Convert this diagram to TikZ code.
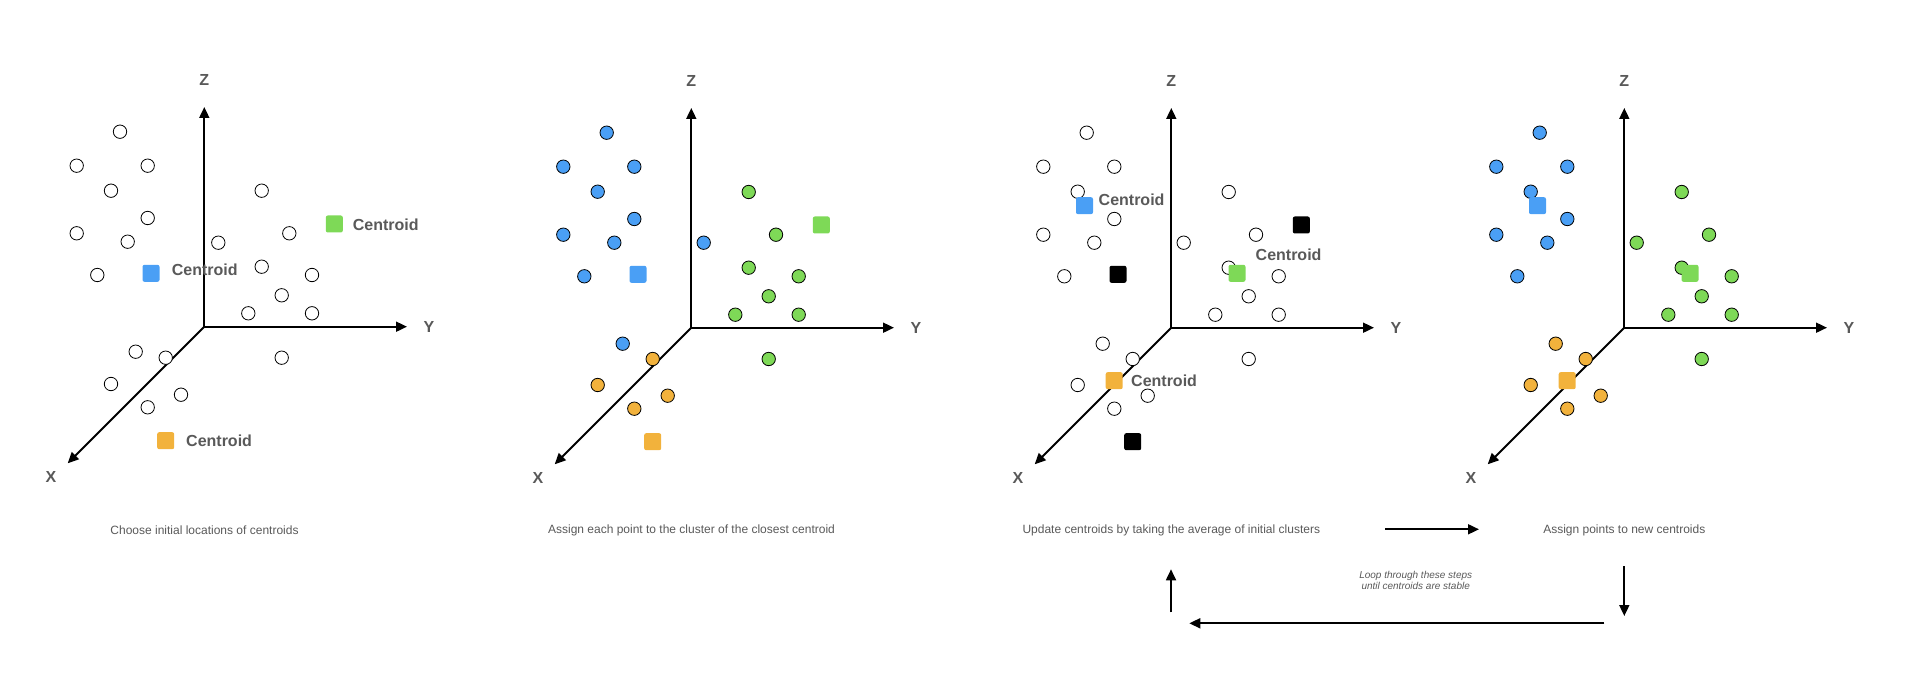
\documentclass[tikz,border=0pt]{standalone}
\usepackage{fontspec}
\setmainfont{Liberation Sans}
\usetikzlibrary{arrows.meta}
\definecolor{ptblue}{HTML}{4A9FF5}
\definecolor{ptgreen}{HTML}{7ED957}
\definecolor{ptorange}{HTML}{F2B23C}
\definecolor{labelgray}{HTML}{595959}
\tikzset{>={Triangle[length=11pt,width=10pt]},
  axis/.style={line width=1.8pt,->},
  flow/.style={line width=1.8pt,->},
  dot/.style={circle,draw=black,line width=0.8pt,fill=white,minimum size=13.4pt,inner sep=0pt},
  ctr/.style={rectangle,rounded corners=2pt,minimum size=17pt,inner sep=0pt},
  axlabel/.style={font=\fontsize{16}{19}\selectfont\bfseries,text=labelgray,inner sep=0pt},
  ctrlabel/.style={font=\fontsize{16}{19}\selectfont\bfseries,text=labelgray,inner sep=0pt,anchor=west},
  caption/.style={font=\fontsize{12}{14}\selectfont,text=labelgray,inner sep=0pt},
  looptext/.style={font=\fontsize{10}{11.7}\selectfont\itshape,text=labelgray,inner sep=0pt,align=center}}

\begin{document}
\begin{tikzpicture}[x=1pt,y=-1pt]
  \useasboundingbox (0,0) rectangle (1912,684);

  % axes of the four panels
  \foreach \k/\dx/\dy in {1/0/0,2/487/1,3/967/1,4/1420/1}{
    \begin{scope}[shift={(\dx,\dy)}]
      \coordinate (o\k) at (204.3,326.7);
      \coordinate (z\k) at (204.3,107);
      \coordinate (y\k) at (407,326.7);
      \coordinate (x\k) at (67.7,463.3);
      \draw[axis] (o\k) -- (z\k);
      \draw[axis] (o\k) -- (y\k);
      \draw[axis] (o\k) -- (x\k);
      \node[axlabel] (zl\k) at (204.3,80) {Z};
      \node[axlabel] (yl\k) at (429,326.7) {Y};
      \node[axlabel] (xl\k) at (51,476.7) {X};
    \end{scope}
  }

  % panel 1: initial centroids
  \foreach \x/\y [count=\i] in {120/131.7,76.7/165.7,147.7/165.7,111/190.7,147.7/218,
      76.7/233.3,127.7/241.7,97.3/275,218.3/242.7,261.7/190.7,289.3/233.3,261.7/266.7,
      312/275,281.7/295.3,248.3/313.3,312/313.3,135.7/351.7,165.7/357.7,281.7/357.7,
      111/384,181/394.7,147.7/407.3}
    \node[dot] (a\i) at (\x,\y) {};
  \node[ctr,fill=ptblue] (s1b) at (151,273.3) {};
  \node[ctr,fill=ptgreen] (s1g) at (334.3,224) {};
  \node[ctr,fill=ptorange] (s1o) at (165.7,440.7) {};
  \node[ctrlabel] (l1b) at (171.7,269.3) {Centroid};
  \node[ctrlabel] (l1g) at (352.7,224.3) {Centroid};
  \node[ctrlabel] (l1o) at (186,441) {Centroid};

  % panel 2: assign to closest centroid
  \begin{scope}[shift={(487,1)}]
    \foreach \x/\y/\c [count=\i] in {119.7/131.7/ptblue,76.3/165.7/ptblue,147.3/165.7/ptblue,
        110.7/190.7/ptblue,147.3/218/ptblue,76.3/233.7/ptblue,127.3/241.7/ptblue,
        97.3/275.3/ptblue,216.7/241.7/ptblue,261.7/191/ptgreen,289/233.7/ptgreen,
        261.7/266.7/ptgreen,311.7/275.3/ptgreen,281.7/295.3/ptgreen,248.3/313.7/ptgreen,
        311.7/313.7/ptgreen,135.7/342.7/ptblue,165.7/358/ptorange,281.7/358/ptgreen,
        110.7/384/ptorange,180.7/394.7/ptorange,147.3/407.7/ptorange}
      \node[dot,fill=\c] (b\i) at (\x,\y) {};
    \node[ctr,fill=ptblue] (s2b) at (151,273.3) {};
    \node[ctr,fill=ptgreen] (s2g) at (334.3,224) {};
    \node[ctr,fill=ptorange] (s2o) at (165.7,440.7) {};
  \end{scope}

  % panel 3: move centroids
  \begin{scope}[shift={(967,1)}]
    \foreach \x/\y [count=\i] in {119.7/131.7,76.3/165.7,147.3/165.7,110.7/190.7,147.3/218,
        76.3/233.7,127.3/241.7,97.3/275.3,216.7/241.7,261.7/191,289/233.7,261.7/266.7,
        311.7/275.3,281.7/295.3,248.3/313.7,311.7/313.7,135.7/342.7,165.7/358,281.7/358,
        110.7/384,180.7/394.7,147.3/407.7}
      \node[dot] (c\i) at (\x,\y) {};
    \node[ctr,fill=black] (s3k1) at (151,273.3) {};
    \node[ctr,fill=black] (s3k2) at (334.3,224) {};
    \node[ctr,fill=black] (s3k3) at (165.7,440.7) {};
    \node[ctr,fill=ptblue] (s3b) at (117.5,204.7) {};
    \node[ctr,fill=ptgreen] (s3g) at (270,272.3) {};
    \node[ctr,fill=ptorange] (s3o) at (147.2,379.7) {};
    \node[ctrlabel] (l3b) at (131.5,198.3) {Centroid};
    \node[ctrlabel] (l3g) at (288.5,253.3) {Centroid};
    \node[ctrlabel] (l3o) at (164,380) {Centroid};
  \end{scope}

  % panel 4: reassign
  \begin{scope}[shift={(1420,1)}]
    \foreach \x/\y/\c [count=\i] in {119.7/131.7/ptblue,76.3/165.7/ptblue,147.3/165.7/ptblue,
        110.7/190.7/ptblue,147.3/218/ptblue,76.3/233.7/ptblue,127.3/241.7/ptblue,
        97.3/275.3/ptblue,216.7/241.7/ptgreen,261.7/191/ptgreen,289/233.7/ptgreen,
        261.7/266.7/ptgreen,311.7/275.3/ptgreen,281.7/295.3/ptgreen,248.3/313.7/ptgreen,
        311.7/313.7/ptgreen,135.7/342.7/ptorange,165.7/358/ptorange,281.7/358/ptgreen,
        110.7/384/ptorange,180.7/394.7/ptorange,147.3/407.7/ptorange}
      \node[dot,fill=\c] (d\i) at (\x,\y) {};
    \node[ctr,fill=ptblue] (s4b) at (117.5,204.7) {};
    \node[ctr,fill=ptgreen] (s4g) at (270,272.3) {};
    \node[ctr,fill=ptorange] (s4o) at (147.2,379.7) {};
  \end{scope}

  % captions and loop
  \node[caption] (cap1) at (204.5,530) {Choose initial locations of centroids};
  \node[caption] (cap2) at (691.5,530) {Assign each point to the cluster of the closest centroid};
  \node[caption] (cap3) at (1171.3,530) {Update centroids by taking the average of initial clusters};
  \node[caption] (cap4) at (1624.3,530) {Assign points to new centroids};
  \node[looptext] (cycle) at (1415.7,580.3) {Loop through these steps\\until centroids are stable};

  \coordinate (r1) at (1385,529.3);
  \coordinate (r2) at (1479,529.3);
  \coordinate (dn1) at (1624.3,566);
  \coordinate (dn2) at (1624.3,616);
  \coordinate (lf1) at (1604.3,623.3);
  \coordinate (lf2) at (1189.3,623.3);
  \coordinate (up1) at (1171,612.3);
  \coordinate (up2) at (1171,569.3);
  \draw[flow] (r1) -- (r2);
  \draw[flow] (dn1) -- (dn2);
  \draw[flow] (lf1) -- (lf2);
  \draw[flow] (up1) -- (up2);
\end{tikzpicture}
\end{document}
